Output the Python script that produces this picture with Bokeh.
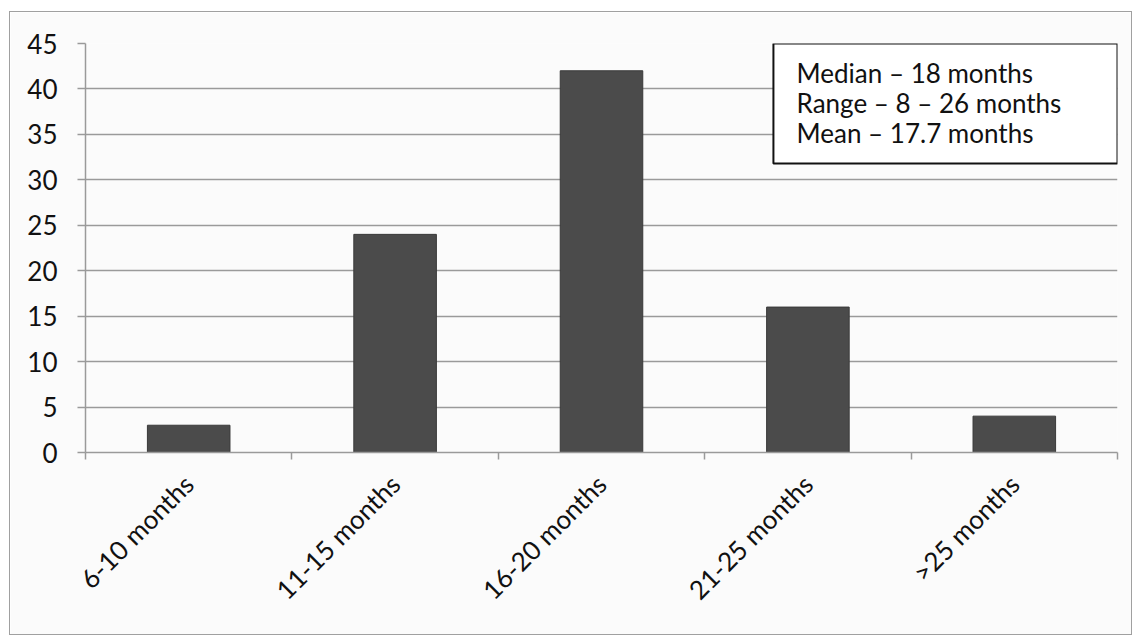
import math
from bokeh.plotting import figure
from bokeh.models import FixedTicker, BoxAnnotation, Label, Range1d
from bokeh.embed import file_html
from bokeh.resources import INLINE

categories = ["6-10 months", "11-15 months", "16-20 months", "21-25 months", ">25 months"]
counts = [3, 24, 42, 16, 4]
y_ticks = [0, 5, 10, 15, 20, 25, 30, 35, 40, 45]
note_lines = ["Median \u2013 18 months", "Range \u2013 8 \u2013 26 months", "Mean \u2013 17.7 months"]

FONT = "Lato"
GRID = "#9a9a9a"
FS = "26px"

p = figure(width=1123, height=624, output_backend="svg", toolbar_location=None,
           x_range=Range1d(0, len(categories)), y_range=Range1d(0, 45),
           min_border_left=75, min_border_right=16, min_border_top=31, min_border_bottom=184,
           background_fill_color="#fbfbfb", border_fill_color="#fbfbfb",
           margin=(11, 0, 0, 9), styles={"border": "1.5px solid #a0a0a0"})
p.outline_line_color = None

xs = [i + 0.5 for i in range(len(categories))]
p.vbar(x=xs, top=counts, width=0.4, bottom=0, fill_color="#4b4b4b", line_color="#3a3a3a", line_width=1)

# axes
p.xaxis.ticker = FixedTicker(ticks=xs, minor_ticks=list(range(len(categories) + 1)))
p.xaxis.major_label_overrides = {x: c for x, c in zip(xs, categories)}
p.xaxis.major_label_orientation = math.pi / 4
p.xaxis.major_tick_line_color = None
p.xaxis.minor_tick_line_color = GRID
p.xaxis.minor_tick_out = 7
p.xaxis.minor_tick_in = 0
p.xaxis.minor_tick_line_width = 1.5
p.xaxis.axis_line_color = GRID
p.xaxis.axis_line_width = 1.5
p.xaxis.major_label_text_font = FONT
p.xaxis.major_label_text_font_size = FS
p.xaxis.major_label_text_color = "#111111"
p.xaxis.major_label_standoff = 20

p.yaxis.ticker = FixedTicker(ticks=y_ticks)
p.yaxis.minor_tick_line_color = None
p.yaxis.major_tick_out = 8
p.yaxis.major_tick_in = 0
p.yaxis.major_tick_line_color = GRID
p.yaxis.major_tick_line_width = 1.5
p.yaxis.axis_line_color = GRID
p.yaxis.axis_line_width = 1.5
p.yaxis.major_label_text_font = FONT
p.yaxis.major_label_text_font_size = FS
p.yaxis.major_label_text_color = "#111111"
p.yaxis.major_label_standoff = 20

p.xgrid.grid_line_color = None
p.ygrid.ticker = FixedTicker(ticks=y_ticks)
p.ygrid.grid_line_color = GRID
p.ygrid.grid_line_width = 1.5

# note box
p.add_layout(BoxAnnotation(left=3.333, right=5.0, top=45, bottom=31.8,
                           fill_color="white", fill_alpha=1.0,
                           line_color="#111111", line_alpha=1.0, line_width=2))
for i, t in enumerate(note_lines):
    p.add_layout(Label(x=3.445, y=41.7 - i * 3.3, text=t, text_font=FONT,
                       text_font_size=FS, text_color="#111111",
                       text_baseline="middle", text_align="left"))

open("out.html", "w").write(file_html(p, INLINE))
